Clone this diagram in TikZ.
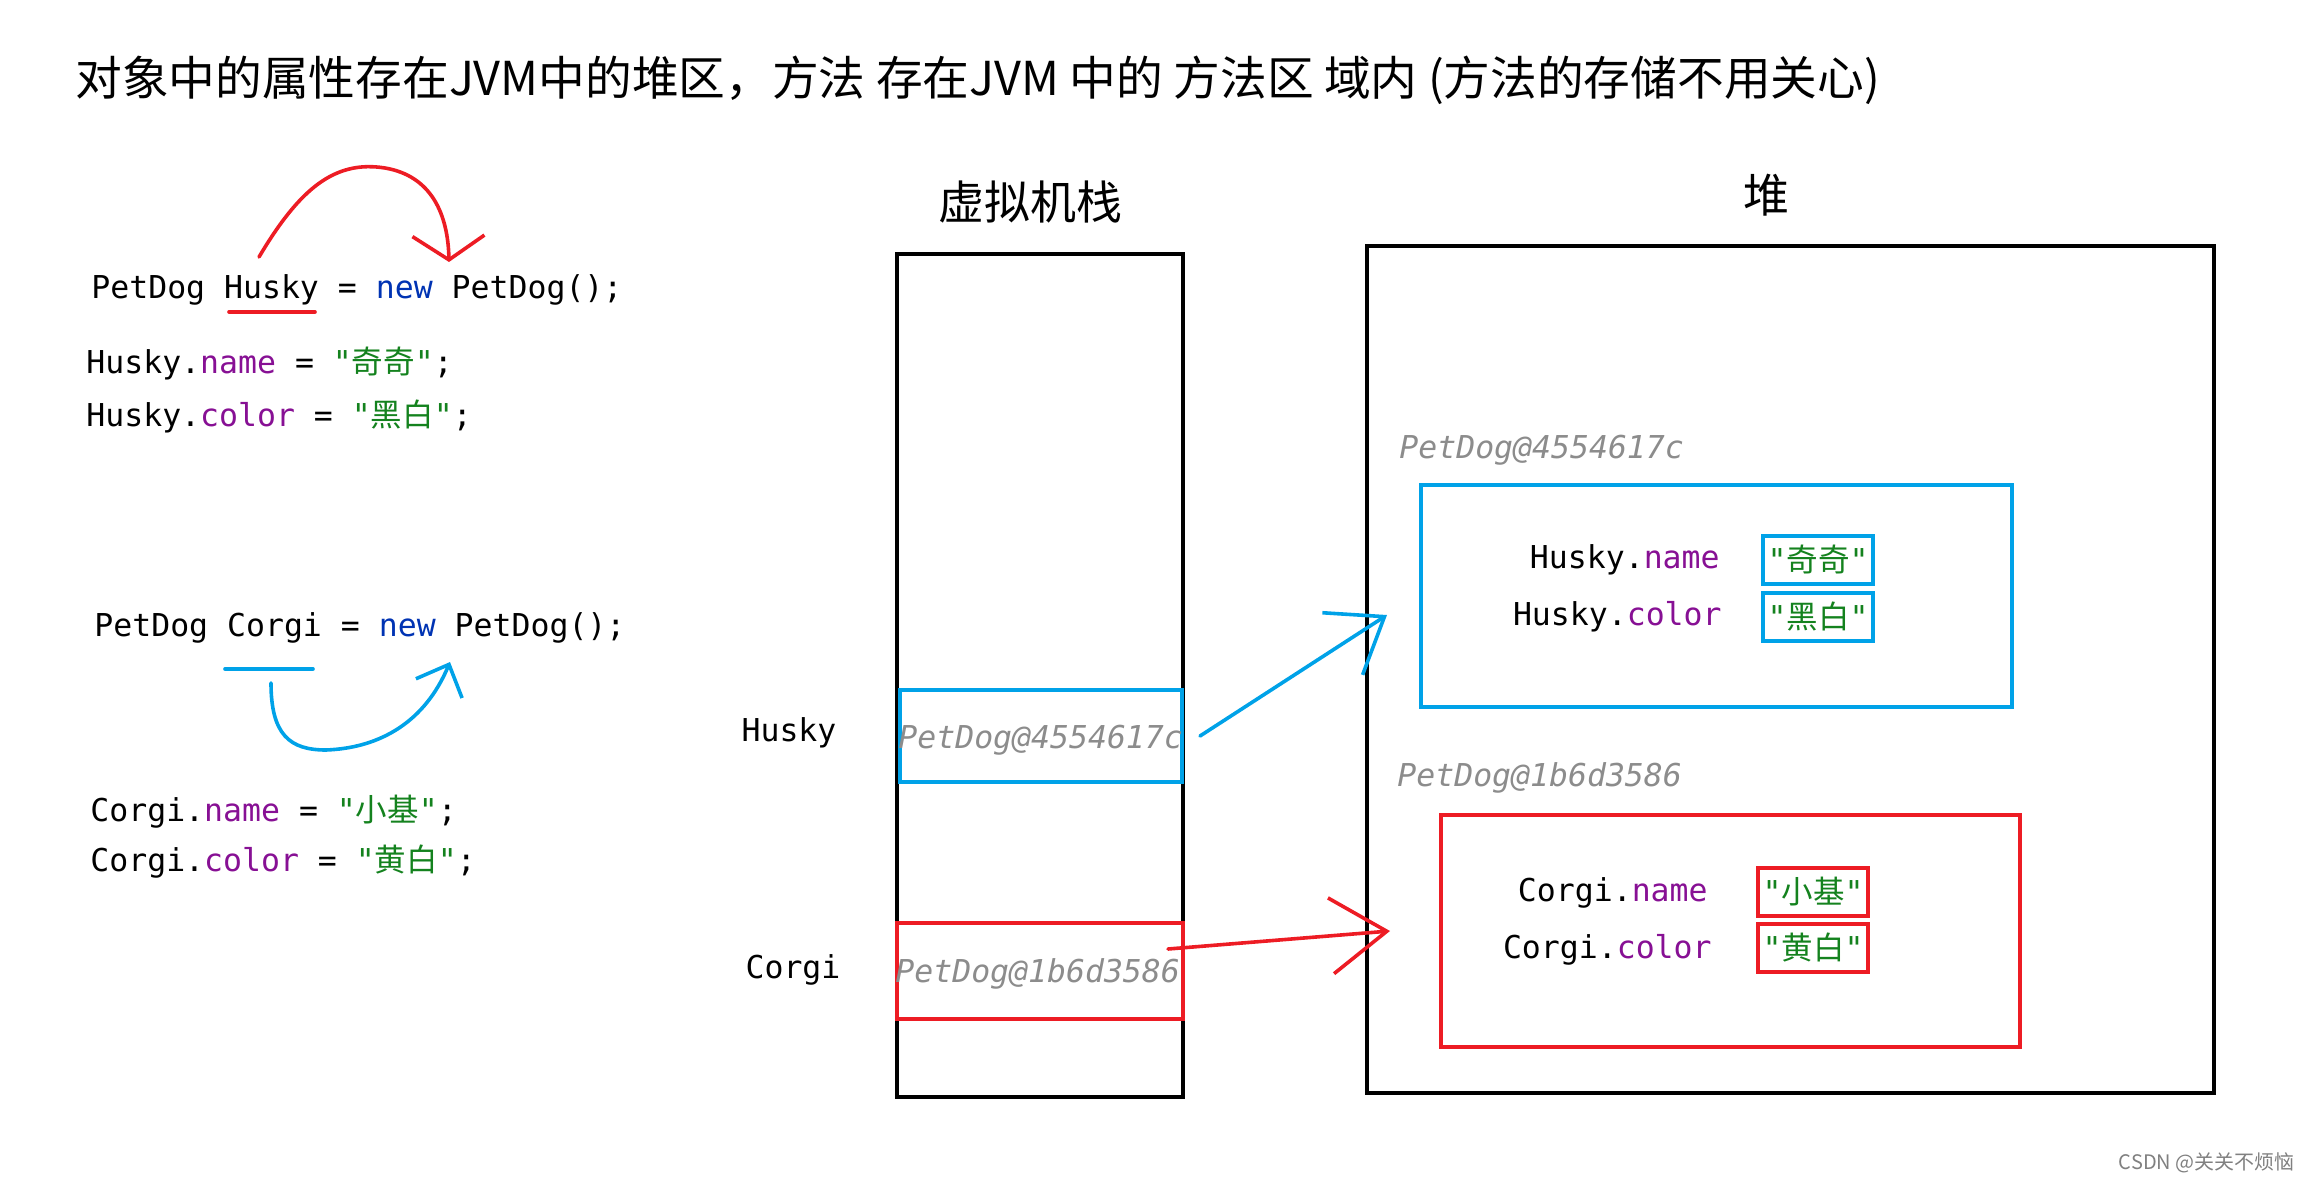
\documentclass[tikz,border=0pt]{standalone}
\usepackage{fontspec}
\setmonofont{DejaVu Sans Mono}
\newfontfamily\cjk{Noto Sans CJK SC}
\usepackage{xcolor}
\usetikzlibrary{arrows.meta,positioning}
\definecolor{paintblue}{RGB}{0,162,232}
\definecolor{paintred}{RGB}{237,28,36}
\definecolor{kwblue}{RGB}{0,51,179}
\definecolor{fieldpurple}{RGB}{135,16,148}
\definecolor{strgreen}{RGB}{20,130,30}
\definecolor{addrgray}{RGB}{140,140,140}
\newcommand{\codefont}{\fontsize{15.75}{18}\selectfont\ttfamily}
\newcommand{\fld}[1]{\textcolor{fieldpurple}{#1}}
\newcommand{\kw}[1]{\textcolor{kwblue}{#1}}
\newcommand{\sval}[1]{\textcolor{strgreen}{"{\cjk #1}"}}

\begin{document}
\begin{tikzpicture}[x=0.5pt,y=-0.5pt,
  code/.style={font=\codefont,inner sep=0pt,anchor=west},
  addr/.style={font=\codefont\itshape,text=addrgray,inner sep=0pt},
  areabox/.style={draw,line width=2pt,inner sep=0pt,anchor=north west},
  valbox/.style={draw,line width=2pt,inner sep=0pt,minimum width=55pt,
    minimum height=24pt,font=\codefont},
  head/.style={font=\cjk\fontsize{23}{26}\selectfont,inner sep=0pt},
  bluepen/.style={paintblue,line width=1.8pt,line cap=round,line join=round},
  redpen/.style={paintred,line width=1.8pt,line cap=round,line join=round}
]
\useasboundingbox (0,0) rectangle (2310,1182);

% title line
\node[head,anchor=west,font=\cjk\fontsize{23.35}{26}\selectfont] (title) at (75,80)
  {对象中的属性存在JVM中的堆区，方法 存在JVM 中的 方法区 域内 (方法的存储不用关心)};

% source code on the left
\node[code] (hnew) at (91,290) {PetDog Husky = \kw{new} PetDog();};
\node[code] (hname) at (86,364) {Husky.\fld{name} = \sval{奇奇};};
\node[code] (hcolor) at (86,416) {Husky.\fld{color} = \sval{黑白};};
\node[code] (cnew) at (94,628) {PetDog Corgi = \kw{new} PetDog();};
\node[code] (cname) at (90,812) {Corgi.\fld{name} = \sval{小基};};
\node[code] (ccolor) at (90,862) {Corgi.\fld{color} = \sval{黄白};};

\draw[redpen] (229,312) -- (315,312);
\draw[bluepen] (225,669) -- (313,669);
\coordinate (hfrom) at (259,257);
\coordinate (hto) at (449,262);
\draw[redpen,-{Straight Barb[length=12pt,width=36pt]}] (hfrom)
  .. controls (300,188) and (335,160) .. (385,168)
  .. controls (432,176) and (448,215) .. (hto);
\coordinate (cfrom) at (271,683);
\coordinate (cto) at (450,662);
\draw[bluepen,-{Straight Barb[length=13pt,width=25pt]}] (cfrom)
  .. controls (271,735) and (290,750) .. (326,750)
  .. controls (380,748) and (425,722) .. (cto);

% stack
\node[head] (stacktitle) at (1030,202) {虚拟机栈};
\node[areabox,minimum width=143pt,minimum height=421.5pt] (stack) at (895,252) {};
\node[areabox,draw=paintblue,minimum width=141pt,minimum height=46pt] (hslot) at (898,688) {};
\node[areabox,draw=paintred,minimum width=143pt,minimum height=48pt] (cslot) at (895,921) {};
\node[addr,anchor=west] (haddr) at ([yshift=-2pt]hslot.west) {PetDog@4554617c};
\node[addr,anchor=west] (caddr) at ([yshift=-1.5pt]cslot.west) {PetDog@1b6d3586};
\node[code,anchor=center] (hvar) at (789,733) {Husky};
\node[code,anchor=center] (cvar) at (793,970) {Corgi};

% heap
\node[head] (heaptitle) at (1766,195) {堆};
\node[areabox,minimum width=423.5pt,minimum height=423.5pt] (heap) at (1365,244) {};
\node[addr,anchor=west] (hobjaddr) at (1399,450) {PetDog@4554617c};
\node[areabox,draw=paintblue,minimum width=295.5pt,minimum height=111pt] (hobj) at (1419,483) {};
\node[code,anchor=east] (hfname) at (1720,560) {Husky.\fld{name}};
\node[code,anchor=east] (hfcolor) at (1722,617) {Husky.\fld{color}};
\node[valbox,draw=paintblue] (hvname) at (1818,560) {\sval{奇奇}};
\node[valbox,draw=paintblue] (hvcolor) at (1818,617) {\sval{黑白}};

\node[addr,anchor=west] (cobjaddr) at (1397,778) {PetDog@1b6d3586};
\node[areabox,draw=paintred,minimum width=289.5pt,minimum height=116pt] (cobj) at (1439,813) {};
\node[code,anchor=east] (cfname) at (1708,893) {Corgi.\fld{name}};
\node[code,anchor=east] (cfcolor) at (1712,950) {Corgi.\fld{color}};
\node[valbox,draw=paintred] (cvname) at (1813,892) {\sval{小基}};
\node[valbox,draw=paintred] (cvcolor) at (1813,948) {\sval{黄白}};

% references from stack to heap
\draw[bluepen,-{Straight Barb[length=25pt,width=37pt]}]
  ([xshift=8pt]hslot.east) -- ([xshift=-16pt,yshift=-9.5pt]hobj.west);
\draw[redpen,-{Straight Barb[length=28pt,width=38pt]}]
  ([xshift=-8.5pt,yshift=11pt]cslot.east) -- ([xshift=-24.5pt]cobj.west);

\node[anchor=east,inner sep=0pt,text=gray,font=\cjk\fontsize{10}{12}\selectfont] (wmark)
  at (2295,1163) {CSDN @关关不烦恼};
\end{tikzpicture}
\end{document}
